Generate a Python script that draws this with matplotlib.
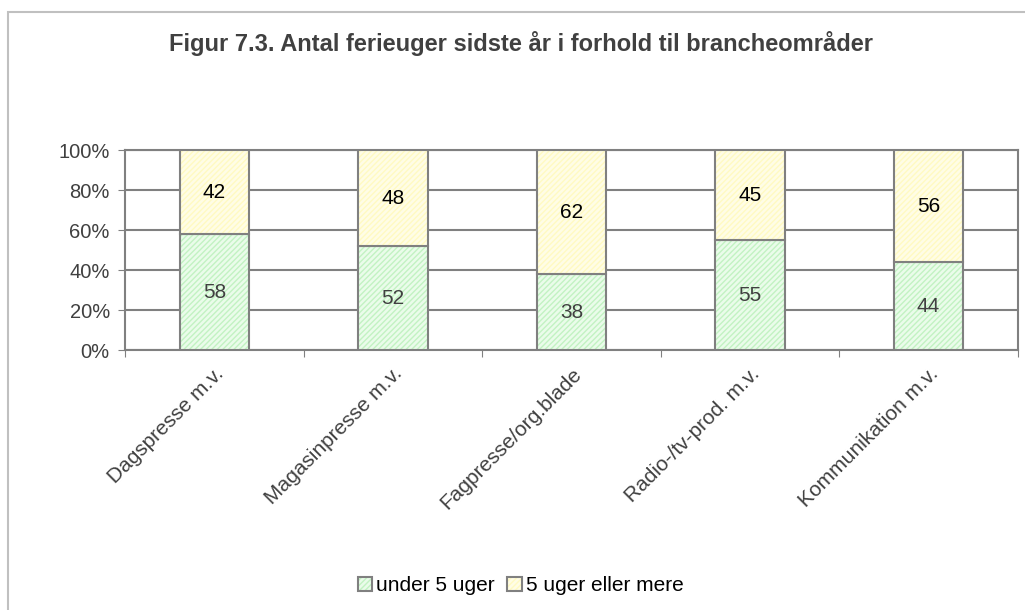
import numpy as np
import matplotlib.pyplot as plt
import matplotlib.transforms as mtransforms
from matplotlib.patches import Rectangle

# Antal ferieuger sidste år, fordelt på brancheområder (procent)
categories = ["Dagspresse m.v.", "Magasinpresse m.v.", "Fagpresse/org.blade",
              "Radio-/tv-prod. m.v.", "Kommunikation m.v."]
under_5 = [58, 52, 38, 55, 44]
over_5 = [42, 48, 62, 45, 56]
series_names = ["under 5 uger", "5 uger eller mere"]

plt.rcParams['font.family'] = ['Liberation Sans', 'DejaVu Sans']
plt.rcParams['hatch.linewidth'] = 1.0

fig = plt.figure(figsize=(10.25, 6.1), dpi=100)
ax = fig.add_axes([0.122, 0.426, 0.871, 0.328])

x = np.arange(len(categories))
width = 0.39
edge = "#808080"

b1 = ax.bar(x, under_5, width, color="#eafcea", edgecolor=edge, linewidth=1.5,
            hatch="//////", label=series_names[0], zorder=3)
b2 = ax.bar(x, over_5, width, bottom=under_5, color="#fffde6", edgecolor=edge,
            linewidth=1.5, hatch="//////", label=series_names[1], zorder=3)
# hatch colour per series
for p in b1:
    p._hatch_color = (0.76, 0.95, 0.76, 1.0)
for p in b2:
    p._hatch_color = (1.0, 0.98, 0.76, 1.0)

for i in range(len(categories)):
    ax.text(x[i], under_5[i] / 2, str(under_5[i]), ha="center", va="center",
            fontsize=15, color="#404040", zorder=4)
    ax.text(x[i], under_5[i] + over_5[i] / 2, str(over_5[i]), ha="center",
            va="center", fontsize=15, color="black", zorder=4)

ax.set_xlim(-0.5, len(categories) - 0.5)
ax.set_ylim(0, 100)
ax.set_yticks(np.arange(0, 101, 20))
ax.set_yticklabels([f"{v}%" for v in range(0, 101, 20)], fontsize=14.5,
                   color="#404040")
ax.yaxis.grid(True, color=edge, linewidth=1.5, zorder=0)
ax.set_axisbelow(True)

ax.set_xticks(np.arange(len(categories) + 1) - 0.5)
ax.set_xticklabels([])
ax.set_xticks(x, minor=True)
ax.set_xticklabels(categories, minor=True, rotation=45, ha="right",
                   rotation_mode="anchor", fontsize=15, color="#404040")
shift = mtransforms.ScaledTranslation(-0.14, -0.06, fig.dpi_scale_trans)
for lab in ax.get_xticklabels(minor=True):
    lab.set_transform(lab.get_transform() + shift)
ax.tick_params(axis="x", which="minor", length=0, pad=10)
ax.tick_params(axis="x", which="major", length=5, color="#808080")
ax.tick_params(axis="y", length=5, color="#808080", pad=6)

for s in ax.spines.values():
    s.set_color(edge)
    s.set_linewidth(1.5)

fig.text(0.508, 0.928, "Figur 7.3. Antal ferieuger sidste år i forhold til brancheområder",
         ha="center", va="center", fontsize=17, fontweight="bold", color="#404040")

fig.legend(handles=[b1, b2], loc="center", bbox_to_anchor=(0.508, 0.04),
           ncol=2, frameon=False, fontsize=15, handlelength=0.7,
           handleheight=0.7, handletextpad=0.2, columnspacing=0.6)

fig.patches.append(Rectangle((8 / 1025, -0.01), 1.1, 1 - 12 / 610 + 0.01,
                             transform=fig.transFigure, fill=False,
                             edgecolor="#c0c0c0", linewidth=1.5))

fig.savefig("out.png", dpi=100)
